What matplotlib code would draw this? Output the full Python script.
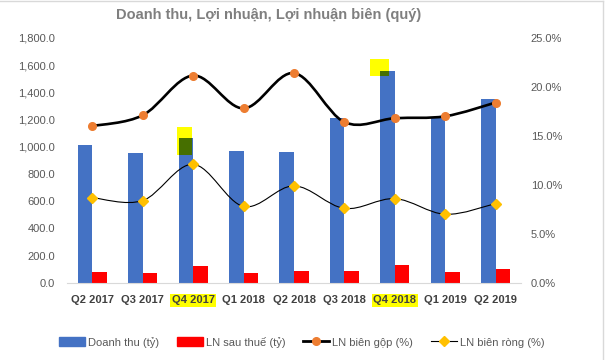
import numpy as np
import matplotlib
matplotlib.use("Agg")
import matplotlib.pyplot as plt
from matplotlib.path import Path
from matplotlib.patches import PathPatch, Patch, Rectangle
from matplotlib.lines import Line2D
from matplotlib.ticker import FuncFormatter, MultipleLocator

plt.rcParams["font.family"] = ["Liberation Sans", "DejaVu Sans"]

# data
quarters = ["Q2 2017", "Q3 2017", "Q4 2017", "Q1 2018", "Q2 2018",
            "Q3 2018", "Q4 2018", "Q1 2019", "Q2 2019"]
doanh_thu = [1014, 955, 1066, 970, 963, 1213, 1558, 1220, 1352]
ln_sau_thue = [81, 73, 125, 73, 88, 88, 132, 81, 103]
ln_bien_gop = [16.0, 17.1, 21.15, 17.8, 21.4, 16.4, 16.8, 17.0, 18.4]
ln_bien_rong = [8.7, 8.4, 12.1, 7.8, 9.9, 7.6, 8.6, 7.0, 8.1]
highlighted = ["Q4 2017", "Q4 2018"]

BLUE = "#4472C4"
RED = "#FF0000"
ORANGE = "#ED7D31"
GOLD = "#FFC000"
TICK = "#595959"


def smooth_path(x, y):
    # excel-like smoothed line (catmull-rom as bezier)
    pts = np.column_stack([x, y]).astype(float)
    ext = np.vstack([pts[0], pts, pts[-1]])
    verts = [pts[0]]
    codes = [Path.MOVETO]
    for i in range(1, len(ext) - 2):
        p0, p1, p2, p3 = ext[i - 1], ext[i], ext[i + 1], ext[i + 2]
        verts += [p1 + (p2 - p0) / 6, p2 - (p3 - p1) / 6, p2]
        codes += [Path.CURVE4] * 3
    return Path(verts, codes)


fig = plt.figure(figsize=(6.1, 3.6), dpi=100)
ax = fig.add_axes([0.110, 0.214, 0.744, 0.681])
ax2 = ax.twinx()

x = np.arange(len(quarters))
w = 0.29
ax.bar(x - w / 2, doanh_thu, w, color=BLUE, zorder=2)
ax.bar(x + w / 2, ln_sau_thue, w, color=RED, zorder=2)

ax.set_xlim(-0.5, len(quarters) - 0.5)
ax.set_ylim(0, 1800)
ax.yaxis.set_major_locator(MultipleLocator(200))
ax.yaxis.set_major_formatter(FuncFormatter(lambda v, p: f"{v:,.1f}"))
ax.set_xticks(x)
ax.set_xticklabels(quarters, fontsize=8, fontweight="bold", color="#404040")
for lbl in ax.get_xticklabels():
    if lbl.get_text() in highlighted:
        lbl.set_bbox(dict(facecolor="#FFFF00", edgecolor="none", pad=1.2))
ax.tick_params(axis="x", length=0, pad=9)
ax.tick_params(axis="y", length=0, pad=8.5, labelsize=8, labelcolor=TICK)
for s in ["top", "left", "right"]:
    ax.spines[s].set_visible(False)
ax.spines["bottom"].set_color("#D9D9D9")

# yellow marker highlights on two bars
def highlight(idx, dx0, dx1, dy0, dy1):
    top = doanh_thu[idx]
    ax.add_patch(Rectangle((idx + dx0, top + dy0), dx1 - dx0, dy1 - dy0,
                           facecolor="#FFFF00", edgecolor="none", zorder=3))
    gx0 = max(idx + dx0, idx - w)
    gx1 = min(idx + dx1, idx)
    ax.add_patch(Rectangle((gx0, top + dy0), gx1 - gx0, -dy0,
                           facecolor="#466F00", edgecolor="none", zorder=3.5))

highlight(2, -0.32, -0.02, -125, 81)
highlight(6, -0.50, -0.11, -37, 88)

ax2.set_ylim(0, 25)
ax2.yaxis.set_major_locator(MultipleLocator(5))
ax2.yaxis.set_major_formatter(FuncFormatter(lambda v, p: f"{v:.1f}%"))
ax2.tick_params(axis="y", length=0, pad=7, labelsize=8, labelcolor=TICK)
for s in ax2.spines.values():
    s.set_visible(False)

ax2.add_patch(PathPatch(smooth_path(x, ln_bien_gop), facecolor="none",
                        edgecolor="black", lw=1.9, zorder=4))
ax2.plot(x, ln_bien_gop, ls="none", marker="o", ms=5.5, color=ORANGE, zorder=5)
ax2.add_patch(PathPatch(smooth_path(x, ln_bien_rong), facecolor="none",
                        edgecolor="black", lw=0.8, zorder=4))
ax2.plot(x, ln_bien_rong, ls="none", marker="D", ms=5, color=GOLD, zorder=5)

fig.text(0.44, 0.958, "Doanh thu, Lợi nhuận, Lợi nhuận biên (quý)",
         ha="center", va="center", fontsize=10.5, fontweight="bold", color="#7F7F7F")

handles = [
    Patch(color=BLUE),
    Patch(color=RED),
    Line2D([], [], color="black", lw=2, marker="o", ms=5.5, mfc=ORANGE, mec=ORANGE),
    Line2D([], [], color="black", lw=0.8, marker="D", ms=5, mfc=GOLD, mec=GOLD),
]
labels = ["Doanh thu (tỷ)", "LN sau thuế (tỷ)", "LN biên gộp (%)", "LN biên ròng (%)"]
fig.legend(handles, labels, loc="center", bbox_to_anchor=(0.495, 0.05), ncol=4,
           frameon=False, fontsize=8, labelcolor=TICK, handlelength=2.3,
           handleheight=0.9, handletextpad=0.3, columnspacing=1.6)

# chart border (top and right visible)
fig.add_artist(Line2D([0, 0.9885], [0.997, 0.997], color="#D9D9D9", lw=1,
                      transform=fig.transFigure))
fig.add_artist(Line2D([0.9885, 0.9885], [0, 0.997], color="#D9D9D9", lw=1,
                      transform=fig.transFigure))

fig.savefig("out.png", dpi=100)
